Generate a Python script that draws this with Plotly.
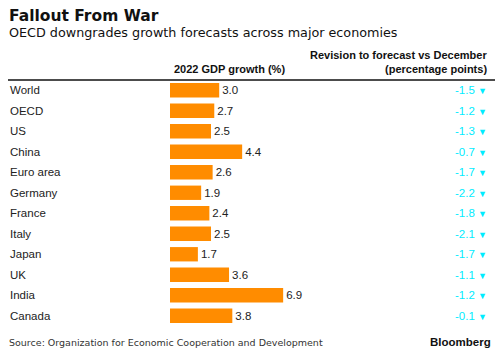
import plotly.graph_objects as go

countries = ["World", "OECD", "US", "China", "Euro area", "Germany", "France",
             "Italy", "Japan", "UK", "India", "Canada"]
gdp_2022 = [3.0, 2.7, 2.5, 4.4, 2.6, 1.9, 2.4, 2.5, 1.7, 3.6, 6.9, 3.8]
revision = [-1.5, -1.2, -1.3, -0.7, -1.7, -2.2, -1.8, -2.1, -1.7, -1.1, -1.2, -0.1]

W, H = 500, 355
ML, MR, MT, MB = 170, 0, 80, 29
pw = W - ML - MR
px_per_unit = 16.4

fig = go.Figure()
fig.add_trace(go.Bar(
    x=gdp_2022, y=countries, orientation="h",
    marker=dict(color="#ff8c00", line=dict(width=0)),
    width=0.7,
    text=[f"{v:.1f}" for v in gdp_2022],
    textposition="outside",
    textfont=dict(family="Liberation Sans", size=11.5, color="#222222"),
    cliponaxis=False,
    hoverinfo="skip",
))

ann = []
def px_x(x):
    return (x - ML) / pw

for c, r in zip(countries, revision):
    ann.append(dict(x=px_x(8), xref="paper", y=c, yref="y", text=c,
                    xanchor="left", yanchor="middle", showarrow=False,
                    font=dict(family="Liberation Sans", size=11.5, color="#222222")))
    ann.append(dict(x=px_x(489), xref="paper", y=c, yref="y",
                    text=f"{r:.1f} <span style='font-size:9px'>▼</span>",
                    xanchor="right", yanchor="middle", showarrow=False,
                    font=dict(family="Liberation Sans", size=11.5, color="#00ecff")))

def py(y):
    return 1 - (y - MT) / (H - MT - MB)

ann += [
    dict(x=px_x(7), y=py(16), xref="paper", yref="paper", text="<b>Fallout From War</b>",
         xanchor="left", yanchor="middle", showarrow=False,
         font=dict(family="DejaVu Sans", size=15.5, color="#111111")),
    dict(x=px_x(7), y=py(33), xref="paper", yref="paper",
         text="OECD downgrades growth forecasts across major economies",
         xanchor="left", yanchor="middle", showarrow=False,
         font=dict(family="DejaVu Sans", size=12.75, color="#111111")),
    dict(x=px_x(287), y=py(69), xref="paper", yref="paper", text="<b>2022 GDP growth (%)</b>",
         xanchor="right", yanchor="middle", showarrow=False,
         font=dict(family="Liberation Sans", size=11, color="#111111")),
    dict(x=px_x(489), y=py(55), xref="paper", yref="paper",
         text="<b>Revision to forecast vs December</b>",
         xanchor="right", yanchor="middle", showarrow=False,
         font=dict(family="Liberation Sans", size=11, color="#111111")),
    dict(x=px_x(489), y=py(69), xref="paper", yref="paper",
         text="<b>(percentage points)</b>",
         xanchor="right", yanchor="middle", showarrow=False,
         font=dict(family="Liberation Sans", size=11, color="#111111")),
    dict(x=px_x(7), y=py(342), xref="paper", yref="paper",
         text="Source: Organization for Economic Cooperation and Development",
         xanchor="left", yanchor="middle", showarrow=False,
         font=dict(family="DejaVu Sans", size=9.5, color="#333333")),
    dict(x=px_x(493), y=py(342), xref="paper", yref="paper", text="<b>Bloomberg</b>",
         xanchor="right", yanchor="middle", showarrow=False,
         font=dict(family="Liberation Sans", size=11.5, color="#111111")),
]

fig.update_layout(
    width=W, height=H,
    margin=dict(l=ML, r=MR, t=MT, b=MB, pad=0),
    paper_bgcolor="white", plot_bgcolor="white",
    showlegend=False,
    xaxis=dict(range=[0, pw / px_per_unit], visible=False, fixedrange=True),
    yaxis=dict(autorange="reversed", visible=False, fixedrange=True),
    annotations=ann,
    shapes=[dict(type="line", xref="paper", yref="paper", x0=px_x(8), x1=px_x(495),
                 y0=py(80), y1=py(80), line=dict(color="#111111", width=1.5))],
    bargap=0.3,
)

fig.write_html("out.html", config={"displayModeBar": False},
               post_script="document.body.style.margin='0px';document.body.style.overflow='hidden';")
